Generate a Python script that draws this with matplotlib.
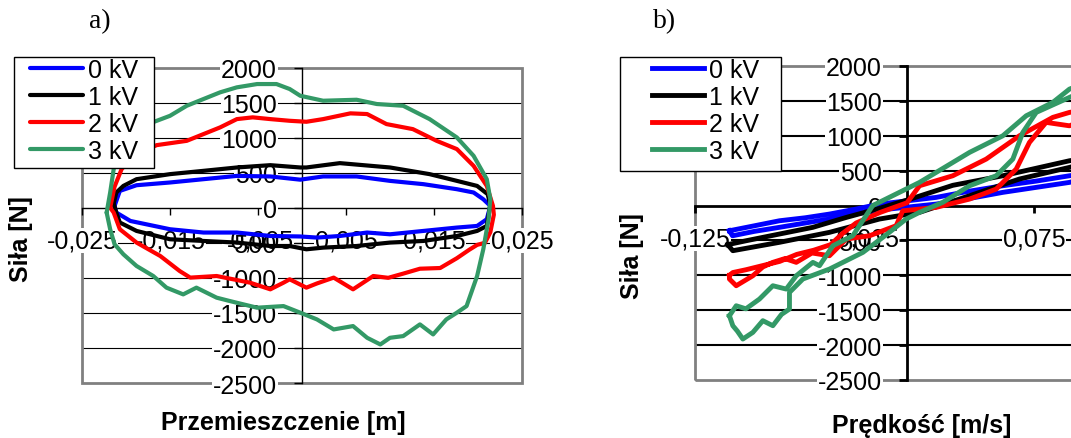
import matplotlib
matplotlib.use('Agg')
import matplotlib.pyplot as plt
from matplotlib.patches import Rectangle

plt.rcParams['font.family'] = ['Liberation Sans', 'DejaVu Sans']

W, H = 1071, 439

series_names = ['0 kV', '1 kV', '2 kV', '3 kV']
series_colors = ['#0000ff', '#000000', '#ff0000', '#339966']

force_ticks = [2000, 1500, 1000, 500, 0, -500, -1000, -1500, -2000, -2500]
disp_ticks = [-0.025, -0.015, -0.005, 0.005, 0.015, 0.025]
disp_labels = ['-0,025', '-0,015', '-0,005', '0,005', '0,015', '0,025']
vel_ticks = [-0.125, -0.025, 0.075, 0.175]
vel_labels = ['-0,125', '-0,025', '0,075', '0,175']

# a) force vs displacement loops
disp_0kv = [-0.0213, -0.0207, -0.0188, -0.0150, -0.0112, -0.0074, -0.0036, -0.0002, 0.0024, 0.0062,
            0.0100, 0.0138, 0.0176, 0.0195, 0.0206, 0.0214, 0.0210, 0.0199, 0.0176, 0.0138, 0.0100,
            0.0074, 0.0043, 0.0017, -0.0002, -0.0036, -0.0074, -0.0112, -0.0150, -0.0177, -0.0195,
            -0.0211, -0.0213]
force_0kv = [25, 240, 321, 360, 407, 454, 446, 400, 446, 446,
             383, 336, 264, 217, 121, 26, -164, -260, -283, -331, -379,
             -354, -403, -426, -410, -403, -354, -354, -307, -236, -189,
             -69, 25]

disp_1kv = [-0.0214, -0.0211, -0.0203, -0.0188, -0.0150, -0.0112, -0.0074, -0.0036, -0.0002, 0.0005,
            0.0043, 0.0100, 0.0145, 0.0176, 0.0199, 0.0211, 0.0214, 0.0210, 0.0199, 0.0176, 0.0138,
            0.0100, 0.0062, 0.0024, 0.0005, -0.0014, -0.0036, -0.0074, -0.0112, -0.0150, -0.0188,
            -0.0207, -0.0211, -0.0214]
force_1kv = [60, 217, 311, 407, 479, 526, 574, 607, 574, 574,
             636, 574, 479, 383, 311, 193, 40, -260, -331, -403, -474,
             -497, -546, -569, -593, -546, -546, -497, -474, -450, -331,
             -211, -69, 60]

disp_2kv = [-0.0218, -0.0213, -0.0205, -0.0190, -0.0165, -0.0131, -0.0112, -0.0093, -0.0074, -0.0056,
            -0.0036, -0.0014, 0.0005, 0.0024, 0.0055, 0.0074, 0.0096, 0.0126, 0.0153, 0.0176,
            0.0195, 0.0210, 0.0217, 0.0218, 0.0214, 0.0208, 0.0199, 0.0190, 0.0176, 0.0157,
            0.0134, 0.0115, 0.0098, 0.0081, 0.0058, 0.0036, 0.0017, 0.0005, -0.0014, -0.0021,
            -0.0036, -0.0059, -0.0097, -0.0127, -0.0139, -0.0161, -0.0188, -0.0207, -0.0214, -0.0218]
force_2kv = [0, 300, 550, 760, 893, 954, 1050, 1146, 1264, 1289,
             1264, 1240, 1226, 1264, 1346, 1336, 1193, 1121, 954, 836,
             597, 311, 26, -100, -350, -500, -530, -600, -720, -860,
             -870, -940, -1000, -974, -1164, -997, -1080, -1140, -1021, -1069,
             -1164, -1069, -974, -997, -903, -689, -497, -307, -69, 0]

disp_3kv = [-0.0222, -0.0218, -0.0214, -0.0210, -0.0195, -0.0180, -0.0165, -0.0150, -0.0131, -0.0112,
            -0.0093, -0.0074, -0.0051, -0.0029, -0.0014, -0.0002, 0.0024, 0.0062, 0.0085, 0.0115,
            0.0145, 0.0176, 0.0195, 0.0210, 0.0214, 0.0212, 0.0206, 0.0199, 0.0187, 0.0176,
            0.0164, 0.0149, 0.0134, 0.0115, 0.0100, 0.0089, 0.0074, 0.0058, 0.0036, 0.0017,
            -0.0002, -0.0021, -0.0051, -0.0082, -0.0097, -0.0120, -0.0135, -0.0154, -0.0169, -0.0188,
            -0.0203, -0.0213, -0.0218, -0.0222]
force_3kv = [-69, 217, 550, 800, 1050, 1170, 1240, 1311, 1454, 1550,
             1646, 1717, 1764, 1764, 1693, 1597, 1526, 1540, 1479, 1454,
             1264, 1002, 740, 407, 121, -164, -593, -974, -1403, -1497,
             -1593, -1807, -1664, -1831, -1855, -1950, -1855, -1688, -1736, -1593,
             -1497, -1403, -1426, -1331, -1283, -1140, -1236, -1140, -974, -831,
             -664, -521, -307, -69]

# b) force vs velocity loops
vel_0kv = [-0.1047, -0.090, -0.0752, -0.060, -0.0457, -0.030, -0.0162, 0.0172, 0.0365, 0.0565,
           0.0760, 0.0958, 0.115, 0.115, 0.0958, 0.0760, 0.0565, 0.0365, 0.0172, -0.0203,
           -0.0457, -0.060, -0.0752, -0.090, -0.1029, -0.1047]
vforce_0kv = [-361, -290, -218, -175, -122, -50, 21, 117, 205, 284,
              350, 427, 490, 460, 332, 260, 189, 100, 21, -75,
              -193, -250, -312, -370, -433, -361]

vel_1kv = [-0.1057, -0.0948, -0.0752, -0.0555, -0.0358, -0.0162, 0.0015, 0.027, 0.0565, 0.0958,
           0.118, 0.118, 0.0958, 0.0663, 0.0369, 0.0074, -0.0162, -0.0457, -0.0752, -0.1027, -0.1057]
vforce_1kv = [-560, -504, -408, -312, -170, -40, 90, 290, 427, 642,
              720, 690, 547, 380, 141, -97, -193, -384, -527, -647, -560]

vel_2kv = [-0.1047, -0.1027, -0.095, -0.085, -0.075, -0.065, -0.055, -0.045, -0.038, -0.030,
           -0.016, 0.0, 0.0074, 0.027, 0.0467, 0.0663, 0.086, 0.0958, 0.112,
           0.112, 0.0958, 0.082, 0.0722, 0.0644, 0.0526, 0.0369, 0.0172, -0.0025, -0.0064,
           -0.0221, -0.0358, -0.0457, -0.0560, -0.0653, -0.0720, -0.0791, -0.0850, -0.0909,
           -0.1007, -0.1047, -0.1047]
vforce_2kv = [-1000, -960, -920, -860, -800, -700, -640, -560, -400, -250,
              -100, 40, 284, 427, 666, 1000, 1264, 1335, 1400,
              1300, 1143, 1192, 905, 523, 236, 93, -26, -75, -289,
              -433, -480, -719, -680, -814, -760, -814, -880, -1006,
              -1149, -1053, -1000]

vel_3kv = [-0.1047, -0.1007, -0.095, -0.087, -0.0791, -0.0712, -0.0653, -0.0555, -0.0516, -0.0437,
           -0.032, -0.0202, 0.0074, 0.0172, 0.0369, 0.0565, 0.0703, 0.086, 0.0958, 0.11,
           0.11, 0.0958, 0.0762, 0.0683, 0.0624, 0.0526, 0.0369, 0.0211, 0.0074, -0.0005,
           -0.0123, -0.026, -0.0457, -0.0614, -0.0693, -0.0693, -0.0740, -0.0791, -0.0850, -0.0909,
           -0.0968, -0.1000, -0.1027, -0.1047]
vforce_3kv = [-1579, -1436, -1480, -1340, -1149, -1197, -1006, -814, -862, -576,
              -433, 0, 332, 475, 762, 1000, 1287, 1479, 1669, 1800,
              1700, 1550, 1335, 1049, 666, 427, 284, 46, -97, -193,
              -420, -671, -910, -1053, -1245, -1483, -1560, -1722, -1650, -1818,
              -1913, -1800, -1722, -1579]


def frac_box(x0, y0, x1, y1):
    return [x0 / W, 1 - y1 / H, (x1 - x0) / W, (y1 - y0) / H]


def style_panel(ax, xticks, xlabels, grid_lw, axis_lw):
    ax.set_ylim(-2500, 2000)
    ax.set_yticks(force_ticks)
    ax.set_yticklabels([str(v) for v in force_ticks])
    ax.set_xticks(xticks)
    ax.set_xticklabels(xlabels)
    ax.set_facecolor('white')
    for s in ['top', 'right']:
        ax.spines[s].set_visible(False)
    for s in ['left', 'bottom']:
        ax.spines[s].set_position(('data', 0))
        ax.spines[s].set_linewidth(axis_lw)
        ax.spines[s].set_zorder(0.25)
    ax.add_patch(Rectangle((0, 0), 1, 1, transform=ax.transAxes, fill=False,
                           ec='#808080', lw=2, zorder=0.2, clip_on=False))
    for v in force_ticks[1:-1]:
        if v != 0:
            ax.axhline(v, color='black', lw=grid_lw, zorder=0.1)
    ax.set_axisbelow(True)
    ax.tick_params(axis='y', direction='out', length=6, width=axis_lw, pad=12, labelsize=18)
    ax.tick_params(axis='x', direction='out', length=5, width=axis_lw, pad=10, labelsize=18)
    # white boxes behind the tick labels, like the spreadsheet chart
    for v in force_ticks:
        ax.annotate(str(v), xy=(0, v), xytext=(-18, 0), textcoords='offset points',
                    ha='right', va='center', fontsize=18, color='none',
                    bbox=dict(fc='white', ec='none', pad=0.5), zorder=0.3)
    for t, lab in zip(xticks, xlabels):
        ax.annotate(lab, xy=(t, 0), xytext=(0, -15), textcoords='offset points',
                    ha='center', va='top', fontsize=18, color='none',
                    bbox=dict(fc='white', ec='none', pad=0.5), zorder=0.3)


def add_legend(fig, ax, lines, box, handle_x):
    x0, y0, x1, y1 = box
    ax.add_patch(Rectangle((x0 / W, 1 - y1 / H), (x1 - x0) / W, (y1 - y0) / H,
                           transform=fig.transFigure, fc='white', ec='black', lw=1,
                           zorder=4, clip_on=False))
    leg = ax.legend(lines, series_names, loc='upper left',
                    bbox_to_anchor=(handle_x / W, 1 - (y0 + 1) / H),
                    bbox_transform=fig.transFigure, frameon=False, fontsize=18,
                    handlelength=2.1, handletextpad=0.2, labelspacing=0.12,
                    borderpad=0, borderaxespad=0)
    leg.set_zorder(5)


fig = plt.figure(figsize=(W / 100, H / 100), dpi=100)

ax1 = fig.add_axes(frac_box(82, 68.5, 522, 384))
ax1.set_xlim(-0.025, 0.025)
lines1 = []
for xs, ys, c in zip([disp_0kv, disp_1kv, disp_2kv, disp_3kv],
                     [force_0kv, force_1kv, force_2kv, force_3kv], series_colors):
    ln, = ax1.plot(xs, ys, color=c, lw=3, zorder=2, solid_capstyle='round')
    lines1.append(ln)
style_panel(ax1, disp_ticks, disp_labels, 0.8, 1.0)
add_legend(fig, ax1, lines1, (14, 58, 154, 169), 30)

ax2 = fig.add_axes(frac_box(695, 67, 1203.8, 381))
ax2.set_xlim(-0.125, 0.175)
lines2 = []
for xs, ys, c in zip([vel_0kv, vel_1kv, vel_2kv, vel_3kv],
                     [vforce_0kv, vforce_1kv, vforce_2kv, vforce_3kv], series_colors):
    ln, = ax2.plot(xs, ys, color=c, lw=3.5, zorder=2)
    lines2.append(ln)
style_panel(ax2, vel_ticks, vel_labels, 1.5, 2.0)
add_legend(fig, ax2, lines2, (620, 58, 781, 172), 652)

fig.text(100 / W, 1 - 22 / H, 'a)', fontsize=20, family='Liberation Serif', ha='center', va='center')
fig.text(665 / W, 1 - 22 / H, 'b)', fontsize=20, family='Liberation Serif', ha='center', va='center')
fig.text(21 / W, 1 - 239 / H, 'Siła [N]', rotation=90, fontsize=18, fontweight='bold', ha='center', va='center')
fig.text(632 / W, 1 - 256 / H, 'Siła [N]', rotation=90, fontsize=18, fontweight='bold', ha='center', va='center')
fig.text(283 / W, 1 - 423 / H, 'Przemieszczenie [m]', fontsize=18, fontweight='bold', ha='center', va='center')
fig.text(922 / W, 1 - 426 / H, 'Prędkość [m/s]', fontsize=18, fontweight='bold', ha='center', va='center')

fig.savefig('out.png', dpi=100)
